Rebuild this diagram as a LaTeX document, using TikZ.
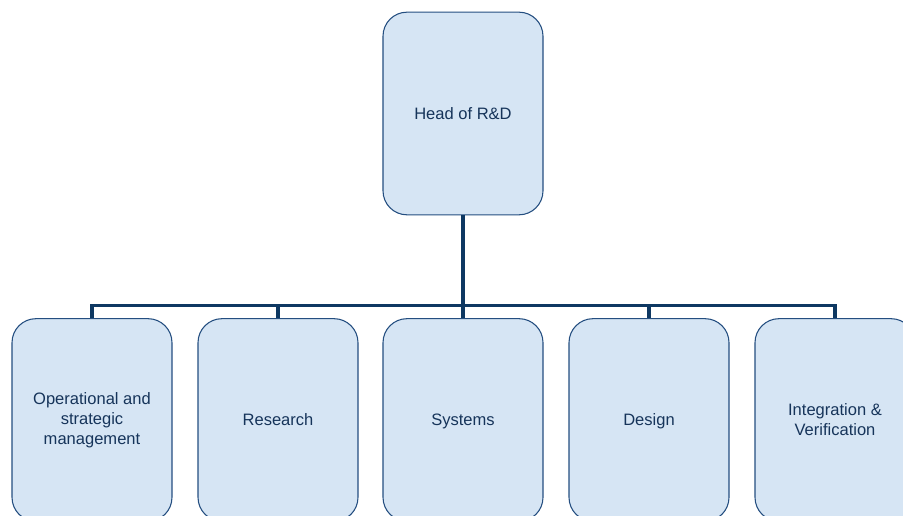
\documentclass[tikz,border=0pt]{standalone}
\usepackage{fontspec}
\setmainfont{Liberation Sans}
\usepackage{xcolor}
\usetikzlibrary{positioning,calc}

\definecolor{boxfill}{RGB}{214,229,244}
\definecolor{boxline}{RGB}{36,78,128}
\definecolor{linkcol}{RGB}{14,56,98}
\definecolor{txtcol}{RGB}{22,52,90}

\tikzset{
  unit/.style={draw=boxline, line width=0.8pt, fill=boxfill, rounded corners=18pt,
    minimum width=120pt, minimum height=152pt, align=center, text=txtcol,
    font=\fontsize{12.4}{15}\selectfont, inner sep=2pt},
  oneline/.style={text height=1em, text depth=0.13em},
  link/.style={draw=linkcol, line width=2.3pt}
}

\begin{document}
\begin{tikzpicture}[x=0.75pt, y=-0.75pt]
  \useasboundingbox (0,0) rectangle (903,516);
  \clip (0,0) rectangle (903,516);
  % head
  \node[unit, oneline] (head) at (463,113.5) {Head of R\&D};
  % departments
  \node[unit] (ops) at (92,420) {Operational and\\strategic\\management};
  \node[unit, oneline] (res) at (278,420) {Research};
  \node[unit, oneline] (sys) at (463,420) {Systems};
  \node[unit, oneline] (des) at (649,420) {Design};
  \node[unit] (iv)  at (835,420) {Integration \&\\Verification};
  % connectors
  \draw[link] (head.south) -- (sys.north);
  \draw[link] (ops.north) -- ++(0,-13) -| (iv.north);
  \foreach \n in {res,des} { \draw[link] (\n.north) -- ++(0,-13); }
\end{tikzpicture}
\end{document}
